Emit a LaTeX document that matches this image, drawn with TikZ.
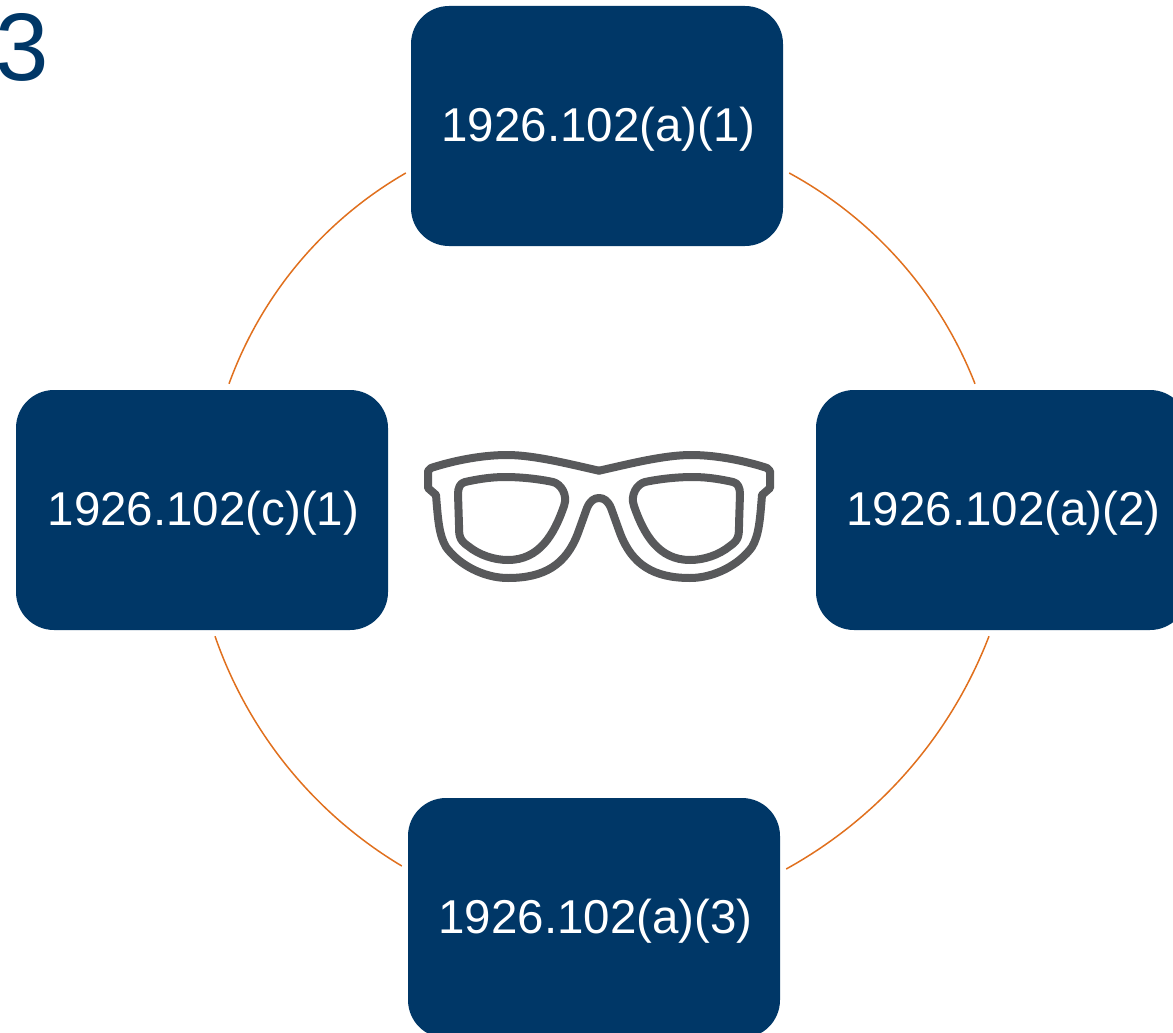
\documentclass[tikz,border=0pt]{standalone}
\usepackage{fontspec}
\setmainfont{Liberation Sans}
\definecolor{boxblue}{HTML}{003767}
\definecolor{linkorange}{HTML}{E0701E}
\definecolor{glassgrey}{HTML}{58595B}

\begin{document}
\begin{tikzpicture}[x=1pt, y=-1pt,
        codebox/.style={fill=boxblue, rounded corners=38pt, minimum width=372pt, minimum height=240pt,
            inner sep=0pt, text=white, text depth=4pt, font=\fontsize{47.5}{56}\selectfont,
            execute at begin node=\hspace{3pt}},
        link/.style={linkorange, line width=1.5pt, bend left=20, looseness=0.88},
        frame/.style={glassgrey, line width=8pt, line join=round, line cap=round}]
    \path[use as bounding box, clip] (0,0) rectangle (1173,1033);

    % Boxes:
    \node [codebox] (top) at (597,126) {1926.102(a)(1)};
    \node [codebox] (right) at (1002,510) {1926.102(a)(2)};
    \node [codebox] (bottom) at (594,918) {1926.102(a)(3)};
    \node [codebox] (left) at (202,510) {1926.102(c)(1)};

    % Number:
    \node [text=boxblue, font=\fontsize{96}{96}\selectfont, inner sep=0pt, anchor=base] (number) at (22.2,80.5) {3};

    % Arcs:
    \draw [link] ([shift={(6,47)}]top.east) to ([shift={(-27,-6)}]right.north);
    \draw [link] ([shift={(-13,6)}]right.south) to ([shift={(6,-49)}]bottom.east);
    \draw [link] ([shift={(-6,-52)}]bottom.west) to ([shift={(13,6)}]left.south);
    \draw [link] ([shift={(27,-6)}]left.north) to ([shift={(-5,47)}]top.west);

    % Glasses:
    \foreach \side in {1,-1} {
        \begin{scope}[shift={(599,430)}, xscale=\side]
            \draw [frame] (0,40.7) .. controls (30,34) and (65,25) .. (92,25)
                .. controls (120,25) and (150,32) .. (168,38) -- (171,41) -- (171,58) -- (163,65)
                .. controls (161,90) and (160,105) .. (153,117)
                .. controls (140,135) and (115,148) .. (91,148)
                .. controls (55,148) and (33,135) .. (21,103) -- (12,78)
                .. controls (9,71) and (5,68) .. (0,68);
            \draw [frame] (94,47) .. controls (110,47) and (125,50) .. (134,52)
                .. controls (139,53) and (141,58) .. (141,64) -- (140,95)
                .. controls (140,105) and (140,110) .. (131,116)
                .. controls (120,125) and (105,130) .. (91,130)
                .. controls (60,130) and (45,105) .. (35,76)
                .. controls (31,65) and (38,54) .. (46,52)
                .. controls (60,49) and (78,47) .. (94,47) -- cycle;
        \end{scope}
    }
\end{tikzpicture}
\end{document}
